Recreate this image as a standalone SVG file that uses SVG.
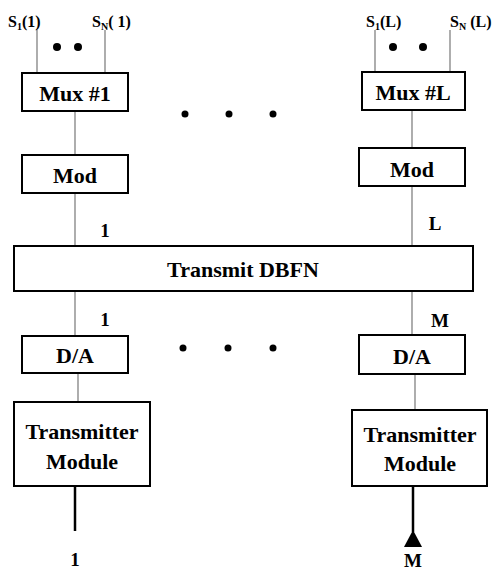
<svg xmlns="http://www.w3.org/2000/svg" width="498" height="571" viewBox="0 0 498 571" font-family="Liberation Serif, Times New Roman, serif">
<style>
.box{fill:#fff;stroke:#000;stroke-width:2}
.t{font-family:'Liberation Serif','Times New Roman',serif;font-weight:bold;fill:#000;text-anchor:middle}
.big{font-size:22px}
.lbl{font-size:19px}
.sl{font-family:'Liberation Serif','Times New Roman',serif;font-weight:bold;font-size:16px;fill:#000}
.sub{font-size:10px}
.c{stroke:#777;stroke-width:1.2;fill:none}
.thick{stroke:#000;stroke-width:2.5;fill:none}
.dot{fill:#000}
</style>
<rect width="498" height="571" fill="#fff"/>
<g id="connectors">
<line class="c" x1="37" y1="30" x2="37" y2="73"/>
<line class="c" x1="105" y1="30" x2="105" y2="73"/>
<line class="c" x1="375" y1="30" x2="375" y2="72"/>
<line class="c" x1="450" y1="30" x2="450" y2="72"/>
<line class="c" x1="75" y1="111" x2="75" y2="155"/>
<line class="c" x1="75" y1="193" x2="75" y2="246"/>
<line class="c" x1="412" y1="110" x2="412" y2="148"/>
<line class="c" x1="412" y1="186" x2="412" y2="246"/>
<line class="c" x1="75" y1="291" x2="75" y2="336"/>
<line class="c" x1="412" y1="291" x2="412" y2="335"/>
<line class="c" x1="78" y1="373" x2="78" y2="402"/>
<line class="c" x1="415" y1="374" x2="415" y2="410"/>
<line class="thick" x1="75" y1="486" x2="75" y2="531"/>
<line class="thick" x1="413" y1="486" x2="413" y2="532"/>
<polygon points="413,530 404,547 422,547" fill="#000"/>
</g>
<g id="labels">
<text class="sl" x="8" y="27">S<tspan class="sub" dy="3">1</tspan><tspan dy="-3">(1)</tspan></text>
<text class="sl" x="92" y="27">S<tspan class="sub" dy="3">N</tspan><tspan dy="-3">( 1)</tspan></text>
<text class="sl" x="366" y="27">S<tspan class="sub" dy="3">1</tspan><tspan dy="-3">(L)</tspan></text>
<text class="sl" x="450" y="27">S<tspan class="sub" dy="3">N</tspan><tspan dy="-3"> (L)</tspan></text>
<circle class="dot" cx="57" cy="47" r="4"/>
<circle class="dot" cx="78" cy="47" r="4"/>
<circle class="dot" cx="393" cy="47" r="4"/>
<circle class="dot" cx="423" cy="47" r="4"/>
<circle class="dot" cx="185" cy="114" r="3.5"/>
<circle class="dot" cx="229" cy="114" r="3.5"/>
<circle class="dot" cx="273" cy="114" r="3.5"/>
<circle class="dot" cx="183" cy="348" r="3.5"/>
<circle class="dot" cx="228" cy="348" r="3.5"/>
<circle class="dot" cx="273" cy="348" r="3.5"/>
<text class="t lbl" x="105" y="237">1</text>
<text class="t lbl" x="435" y="230">L</text>
<text class="t lbl" x="105" y="326">1</text>
<text class="t lbl" x="440" y="327">M</text>
<text class="t lbl" x="75" y="566">1</text>
<text class="t lbl" x="413" y="567">M</text>
</g>
<g id="mux1"><rect class="box" x="22" y="73" width="106" height="38"/><text class="t big" x="75" y="101">Mux #1</text></g>
<g id="muxL"><rect class="box" x="362" y="72" width="103" height="38"/><text class="t big" x="413" y="100">Mux #L</text></g>
<g id="mod1"><rect class="box" x="22" y="155" width="106" height="38"/><text class="t big" x="75" y="183">Mod</text></g>
<g id="modL"><rect class="box" x="359" y="148" width="106" height="38"/><text class="t big" x="412" y="177">Mod</text></g>
<g id="dbfn"><rect class="box" x="14" y="246" width="459" height="45"/><text class="t big" x="243" y="277">Transmit DBFN</text></g>
<g id="da1"><rect class="box" x="22" y="336" width="106" height="37"/><text class="t big" x="75" y="363">D/A</text></g>
<g id="daM"><rect class="box" x="359" y="335" width="106" height="39"/><text class="t big" x="412" y="364">D/A</text></g>
<g id="tm1"><rect class="box" x="14" y="402" width="136" height="84"/><text class="t big" x="82" y="439">Transmitter</text><text class="t big" x="82" y="469">Module</text></g>
<g id="tmM"><rect class="box" x="352" y="410" width="135" height="76"/><text class="t big" x="420" y="442">Transmitter</text><text class="t big" x="420" y="471">Module</text></g>
</svg>
